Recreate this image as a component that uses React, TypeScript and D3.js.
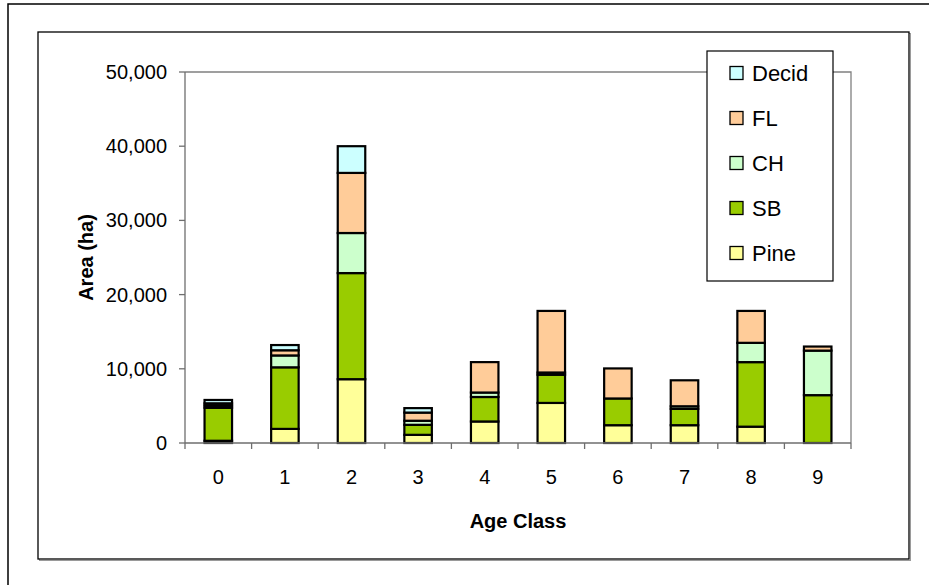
import React from 'react';
import * as d3 from 'd3';

// Area by age class, stacked by forest type (ha)
const ageClasses = ['0', '1', '2', '3', '4', '5', '6', '7', '8', '9'];
const pine = [300, 1900, 8600, 1100, 2900, 5400, 2400, 2400, 2200, 0];
const sb = [4450, 8300, 14300, 1350, 3300, 3800, 3600, 2200, 8700, 6450];
const ch = [300, 1600, 5400, 550, 600, 300, 0, 350, 2600, 6000];
const fl = [300, 700, 8100, 1100, 4100, 8300, 4050, 3500, 4300, 550];
const decid = [450, 700, 3600, 600, 0, 0, 0, 0, 0, 0];

const seriesNames = ['Pine', 'SB', 'CH', 'FL', 'Decid'];
const seriesColors = ['#FFFF99', '#99CC00', '#CCFFCC', '#FFCC99', '#CCFFFF'];
const yTicks = [0, 10000, 20000, 30000, 40000, 50000];

const W = 929;
const H = 585;
const plot = { left: 185, right: 851, top: 72, bottom: 443 };

export default function App() {
  const rows = ageClasses.map((a, i) => ({
    age: a,
    Pine: pine[i],
    SB: sb[i],
    CH: ch[i],
    FL: fl[i],
    Decid: decid[i],
  }));
  const stacked = d3.stack<any>().keys(seriesNames)(rows);

  const x = d3
    .scaleBand<string>()
    .domain(ageClasses)
    .range([plot.left, plot.right])
    .paddingInner(0.587)
    .paddingOuter(0.2935);
  const y = d3.scaleLinear().domain([0, 50000]).range([plot.bottom, plot.top]);
  const fmt = d3.format(',');
  const color = d3.scaleOrdinal<string, string>().domain(seriesNames).range(seriesColors);

  const boundaries = d3.range(ageClasses.length + 1).map((i) => plot.left + i * x.step());
  const font = '"Liberation Sans", Arial, sans-serif';
  const legendItems = [...seriesNames].reverse();

  return (
    <svg
      width={W}
      height={H}
      style={{ position: 'absolute', left: 0, top: 0, background: '#fff' }}
      fontFamily={font}
    >
      {/* outer frame */}
      <rect x={8} y={4} width={W} height={H} fill="none" stroke="#000" strokeWidth={1.5} />
      {/* chart area with shadow */}
      <rect x={39.5} y={33.5} width={871} height={527} fill="none" stroke="#9a9a9a" strokeWidth={1} />
      <rect x={38} y={32} width={871} height={527} fill="#fff" stroke="#000" strokeWidth={1.3} />

      {/* plot area border */}
      <path
        d={`M${plot.left},${plot.top}H${plot.right}V${plot.bottom}`}
        fill="none"
        stroke="#808080"
        strokeWidth={1.3}
      />

      {/* bars */}
      {stacked.map((s) => (
        <g key={s.key} fill={color(s.key)} stroke="#000" strokeWidth={2.2}>
          {s
            .filter((d) => d[1] - d[0] > 0)
            .map((d) => (
              <rect
                key={d.data.age}
                x={x(d.data.age)}
                y={y(d[1])}
                width={x.bandwidth()}
                height={y(d[0]) - y(d[1])}
              />
            ))}
        </g>
      ))}

      {/* y axis */}
      <line x1={plot.left} x2={plot.left} y1={plot.top} y2={plot.bottom} stroke="#6e6e6e" strokeWidth={1.3} />
      {yTicks.map((t) => (
        <g key={t}>
          <line x1={plot.left - 6} x2={plot.left} y1={y(t)} y2={y(t)} stroke="#6e6e6e" strokeWidth={1.3} />
          <text x={plot.left - 18} y={y(t)} dy="0.35em" textAnchor="end" fontSize={20} fill="#000">
            {fmt(t)}
          </text>
        </g>
      ))}

      {/* x axis */}
      <line x1={plot.left} x2={plot.right} y1={plot.bottom} y2={plot.bottom} stroke="#6e6e6e" strokeWidth={1.3} />
      {boundaries.map((b, i) => (
        <line key={i} x1={b} x2={b} y1={plot.bottom} y2={plot.bottom + 6} stroke="#6e6e6e" strokeWidth={1.3} />
      ))}
      {ageClasses.map((a) => (
        <text
          key={a}
          x={(x(a) as number) + x.bandwidth() / 2}
          y={477}
          dy="0.35em"
          textAnchor="middle"
          fontSize={20}
          fill="#000"
        >
          {a}
        </text>
      ))}

      {/* axis titles */}
      <text x={(plot.left + plot.right) / 2} y={521} dy="0.35em" textAnchor="middle" fontSize={20} fontWeight="bold">
        Age Class
      </text>
      <text
        transform={`translate(86,${(plot.top + plot.bottom) / 2}) rotate(-90)`}
        dy="0.35em"
        textAnchor="middle"
        fontSize={20}
        fontWeight="bold"
      >
        Area (ha)
      </text>

      {/* legend */}
      <rect x={707} y={51} width={126} height={230} fill="#fff" stroke="#000" strokeWidth={1.2} />
      {legendItems.map((name, i) => {
        const cy = 73 + i * 45;
        return (
          <g key={name}>
            <rect x={730} y={cy - 6.5} width={13} height={13} fill={color(name)} stroke="#000" strokeWidth={1.3} />
            <text x={752} y={cy} dy="0.35em" fontSize={22} fill="#000">
              {name}
            </text>
          </g>
        );
      })}
    </svg>
  );
}
